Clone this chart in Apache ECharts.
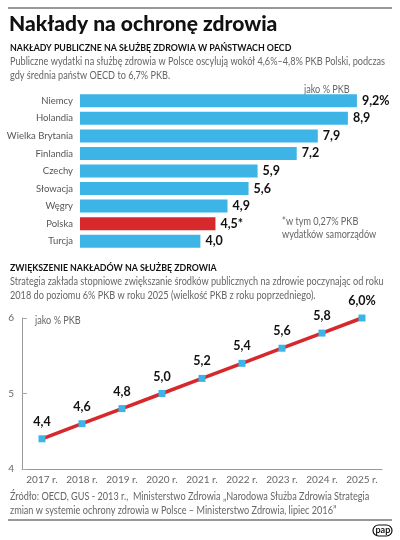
<!DOCTYPE html>
<html><head><meta charset="utf-8">
<script src="https://cdn.jsdelivr.net/npm/echarts@6/dist/echarts.min.js"></script>
<style>html,body{margin:0;padding:0;background:#fff}#c{width:400px;height:540px}</style>
</head><body><div id="c"></div>
<script>
const countries = ['Niemcy','Holandia','Wielka Brytania','Finlandia','Czechy','Słowacja','Węgry','Polska','Turcja'];
const spending = [9.2, 8.9, 7.9, 7.2, 5.9, 5.6, 4.9, 4.5, 4.0];
const spendingSuffix = ['%','','','','','','','*',''];
const years = ['2017 r.','2018 r.','2019 r.','2020 r.','2021 r.','2022 r.','2023 r.','2024 r.','2025 r.'];
const plan = [4.4, 4.6, 4.8, 5.0, 5.2, 5.4, 5.6, 5.8, 6.0];
const planSuffix = ['','','','','','','','','%'];
const yTicks = [4, 5, 6];

const BLUE = '#3cb4e6', RED = '#d7282b', GRAY = '#666', FONT = 'Lato';
const fmt = v => v.toFixed(1).replace('.', ',');

const chart = echarts.init(document.getElementById('c'));
const txt = (x, y, text, style, sx) => ({type:'text', x:x, y:y, scaleX: sx===undefined?0.87:sx,
  style:Object.assign({text, fontFamily:FONT, fill:GRAY, fontSize:10.5, textVerticalAlign:'top'}, style)});

chart.setOption({
  animation:false,
  textStyle:{fontFamily:FONT},
  grid:[
    {left:80, right:19, top:92, height:158, outerBoundsMode:'none'},
    {left:22, right:18, top:318, bottom:71, outerBoundsMode:'none'}
  ],
  xAxis:[
    {gridIndex:0, type:'value', min:0, max:10, show:false},
    {gridIndex:1, type:'category', data:years, boundaryGap:true,
     axisLine:{lineStyle:{color:'#999'}}, axisTick:{inside:true, length:6, lineStyle:{color:'#aaa'}},
     axisLabel:{color:GRAY, fontSize:10, margin:6, fontFamily:FONT, interval:0}}
  ],
  yAxis:[
    {gridIndex:0, type:'category', data:countries, inverse:true,
     axisLine:{show:false}, axisTick:{show:false},
     axisLabel:{color:'#555', fontSize:9.5, margin:7, fontFamily:FONT}},
    {gridIndex:1, type:'value', min:yTicks[0], max:yTicks[yTicks.length-1], interval:1,
     axisLine:{show:true, lineStyle:{color:'#999'}}, axisTick:{show:true, inside:true, length:5, lineStyle:{color:'#aaa'}},
     splitLine:{show:false},
     axisLabel:{color:GRAY, fontSize:10, margin:8, fontFamily:FONT}}
  ],
  series:[
    {type:'bar', xAxisIndex:0, yAxisIndex:0, barWidth:13,
     data: spending.map((v,i)=>({value:v, itemStyle:{color: countries[i]==='Polska'?RED:BLUE}})),
     label:{show:true, position:'right', distance:5, color:'#111', fontWeight:'bold', fontSize:12.5, fontFamily:FONT,
       formatter:p=>fmt(p.value)+spendingSuffix[p.dataIndex]}},
    {type:'line', xAxisIndex:1, yAxisIndex:1, data:plan,
     lineStyle:{color:RED, width:3.5}, symbol:'rect', symbolSize:7,
     itemStyle:{color:BLUE, borderWidth:0},
     label:{show:true, position:'top', distance:7, color:'#111', fontWeight:'bold', fontSize:12.5, fontFamily:FONT,
       formatter:p=>fmt(p.value)+planSuffix[p.dataIndex]}}
  ],
  graphic:[
    {type:'line', shape:{x1:8,y1:8,x2:392,y2:8}, style:{stroke:'#333', lineWidth:1}},
    txt(9, 14, 'Nakłady na ochronę zdrowia', {fill:'#111', fontSize:21, fontWeight:900}, 1),
    txt(10, 43, 'NAKŁADY PUBLICZNE NA SŁUŻBĘ ZDROWIA W PAŃSTWACH OECD', {fill:'#111', fontSize:10, fontWeight:'bold'}, 0.88),
    txt(10, 56, 'Publiczne wydatki na służbę zdrowia w Polsce oscylują wokół 4,6%–4,8% PKB Polski, podczas'),
    txt(10, 70, 'gdy średnia państw OECD to 6,7% PKB.'),
    txt(304, 84, 'jako % PKB'),
    txt(282, 216, '*w tym 0,27% PKB'),
    txt(282, 229, 'wydatków samorządów'),
    txt(10, 263, 'ZWIĘKSZENIE NAKŁADÓW NA SŁUŻBĘ ZDROWIA', {fill:'#111', fontSize:10, fontWeight:'bold'}, 0.88),
    txt(10, 276, 'Strategia zakłada stopniowe zwiększanie środków publicznych na zdrowie poczynając od roku'),
    txt(10, 290, '2018 do poziomu 6% PKB w roku 2025 (wielkość PKB z roku poprzedniego).'),
    txt(35, 315, 'jako % PKB'),
    txt(10, 491, 'Źródło: OECD, GUS - 2013 r.,  Ministerstwo Zdrowia „Narodowa Służba Zdrowia Strategia'),
    txt(10, 505, 'zmian w systemie ochrony zdrowia w Polsce – Ministerstwo Zdrowia, lipiec 2016”'),
    {type:'line', shape:{x1:8,y1:520,x2:392,y2:520}, style:{stroke:'#333', lineWidth:1}},
    {type:'rect', shape:{x:373, y:525, width:19, height:11, r:5.5}, style:{fill:'#fff', stroke:'#111', lineWidth:1.2}},
    txt(375.5, 526, 'pap', {fill:'#111', fontSize:9, fontWeight:'bold'}, 1)
  ]
});
</script></body></html>
